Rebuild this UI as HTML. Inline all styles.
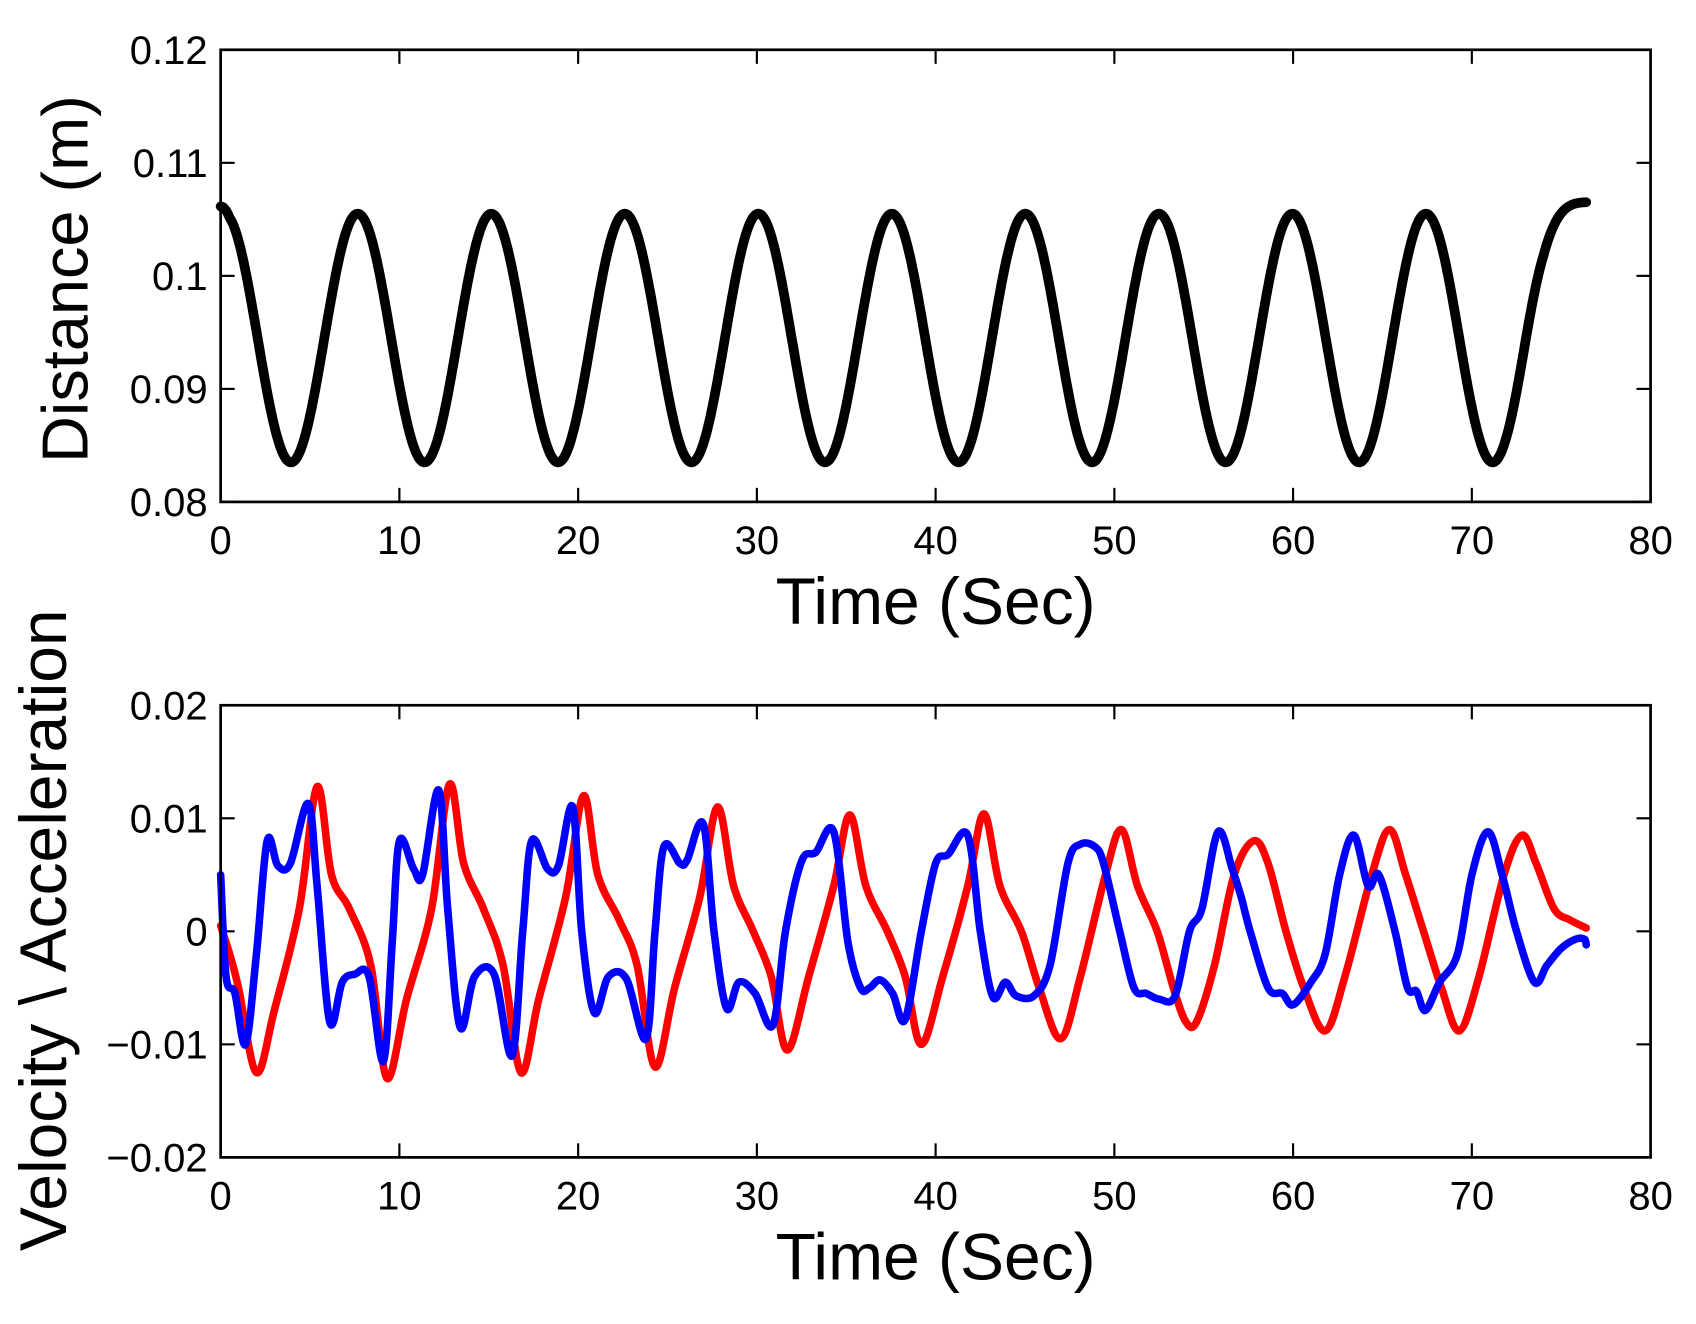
<!DOCTYPE html>
<html><head><meta charset="utf-8"><style>
html,body{margin:0;padding:0;background:#fff;}
svg{display:block;}
text{font-family:"Liberation Sans",Arial,sans-serif;fill:#000;}
</style></head><body>
<svg id="s" width="1696" height="1324" viewBox="0 0 1568 1224" xmlns="http://www.w3.org/2000/svg">
<rect width="1568" height="1224" fill="#fff"/>
<g id="g"></g>
<text x="60" y="258" font-size="60" text-anchor="middle" transform="rotate(-90 60 258)" dy="21">Distance (m)</text>
<text x="865" y="577" font-size="61" text-anchor="middle">Time (Sec)</text>
<text x="40" y="860" font-size="61" text-anchor="middle" transform="rotate(-90 40 860)" dy="21">Velocity \ Acceleration</text>
<text x="865" y="1183" font-size="61" text-anchor="middle">Time (Sec)</text>
</svg>
<script>
const NS="http://www.w3.org/2000/svg",g=document.getElementById('g');
function el(n,a,t){const e=document.createElementNS(NS,n);for(const k in a)e.setAttribute(k,a[k]);if(t!==undefined)e.textContent=t;g.appendChild(e);return e;}
const L=204,R=1526,W=R-L;
function axes(top,bot,labels){
  for(let i=0;i<=8;i++){const x=L+W*i/8;
    el('line',{x1:x,y1:bot,x2:x,y2:bot-13,stroke:'#000','stroke-width':2});
    el('line',{x1:x,y1:top,x2:x,y2:top+13,stroke:'#000','stroke-width':2});
    el('text',{x:x,y:bot+48,'font-size':37,'text-anchor':'middle'},String(i*10));}
  const n=labels.length-1;
  for(let j=0;j<=n;j++){const y=bot-(bot-top)*j/n;
    el('line',{x1:L,y1:y,x2:L+13,y2:y,stroke:'#000','stroke-width':2});
    el('line',{x1:R,y1:y,x2:R-13,y2:y,stroke:'#000','stroke-width':2});
    el('text',{x:L-12,y:y+13,'font-size':37,'text-anchor':'end'},labels[j]);}
}
function path(pts,color,w){
  let d='M'+pts[0][0]+','+pts[0][1];
  for(let i=0;i<pts.length-1;i++){const p0=pts[Math.max(0,i-1)],p1=pts[i],p2=pts[i+1],p3=pts[Math.min(pts.length-1,i+2)];
    const c1=[p1[0]+(p2[0]-p0[0])/6,p1[1]+(p2[1]-p0[1])/6],c2=[p2[0]-(p3[0]-p1[0])/6,p2[1]-(p3[1]-p1[1])/6];
    d+='C'+c1[0].toFixed(1)+','+c1[1].toFixed(1)+' '+c2[0].toFixed(1)+','+c2[1].toFixed(1)+' '+p2[0].toFixed(1)+','+p2[1].toFixed(1);}
  el('path',{d:d,fill:'none',stroke:color,'stroke-width':w,'stroke-linejoin':'round','stroke-linecap':'round'});
}
const sx=t=>L+t*W/80;
axes(46,464,['0.08','0.09','0.1','0.11','0.12']);
const sy1=v=>464-(v-0.08)/0.04*418;
let p=[];for(let t=0;t<=76.45;t+=0.1){let ph=2*Math.PI*(t-0.2)/7.47;if(t>73)ph=2*Math.PI*(73-0.2)/7.47+(2*Math.PI*(t-73)/7.47)*(1-(t-73)/9);let v=0.0945+0.011*Math.cos(ph);if(t>74)v+=0.0012*Math.min(1,(t-74)/2.4);if(t<0.5)v+=0.0008*(1-t/0.5);p.push([sx(t),sy1(v)]);}
path(p,'#000',9);
axes(652,1070,['\u22120.02','\u22120.01','0','0.01','0.02']);
const sy2=v=>861-v*10450;
const red=[[0,0.0005],[0.5,-0.002],[1.0,-0.005],[2.0,-0.0125],[3.0,-0.007],[4.4,0.002],[5.4,0.0128],[6.2,0.005],[7.2,0.002],[8.4,-0.003],[9.3,-0.013],[10.4,-0.006],[11.8,0.002],[12.8,0.013],[13.6,0.006],[14.7,0.002],[15.8,-0.003],[16.8,-0.0125],[17.8,-0.006],[19.3,0.003],[20.3,0.012],[21.1,0.005],[22.3,0.001],[23.3,-0.003],[24.3,-0.012],[25.4,-0.005],[26.8,0.003],[27.8,0.011],[28.7,0.004],[29.8,0.0],[30.8,-0.004],[31.7,-0.0105],[32.9,-0.004],[34.3,0.004],[35.2,0.0103],[36.1,0.004],[37.3,0.0],[38.3,-0.004],[39.2,-0.010],[40.4,-0.004],[41.8,0.004],[42.7,0.0104],[43.6,0.004],[44.8,0.0],[45.8,-0.005],[47.0,-0.0095],[48.1,-0.004],[49.5,0.005],[50.4,0.009],[51.3,0.004],[52.4,0.0],[53.3,-0.005],[54.0,-0.008],[54.6,-0.008],[55.6,-0.003],[56.7,0.005],[57.8,0.008],[58.6,0.006],[59.6,0.0],[60.6,-0.005],[61.8,-0.0088],[62.9,-0.004],[64.4,0.005],[65.4,0.009],[66.3,0.005],[67.3,0.0],[68.3,-0.005],[69.3,-0.0088],[70.4,-0.004],[71.8,0.005],[72.8,0.0085],[73.6,0.006],[74.6,0.002],[75.5,0.001],[76.4,0.0003]];
const blue=[[0,0.005],[0.3,-0.004],[0.8,-0.0055],[1.4,-0.010],[2.0,-0.002],[2.6,0.008],[3.2,0.0058],[3.9,0.006],[4.9,0.0113],[5.4,0.004],[6.1,-0.008],[6.8,-0.0045],[7.5,-0.0038],[8.3,-0.004],[9.1,-0.0115],[9.6,-0.001],[10.0,0.008],[10.8,0.0055],[11.3,0.005],[12.2,0.0125],[12.7,0.002],[13.4,-0.0085],[14.2,-0.004],[15.3,-0.0038],[16.3,-0.011],[16.9,0.0],[17.4,0.008],[18.3,0.0055],[18.9,0.0058],[19.7,0.011],[20.2,0.0],[20.9,-0.0072],[21.7,-0.004],[22.7,-0.0042],[23.8,-0.0095],[24.3,0.0],[24.8,0.0075],[25.7,0.006],[26.1,0.0063],[27.0,0.0095],[27.6,0.0],[28.3,-0.0068],[29.0,-0.0045],[29.9,-0.0055],[30.9,-0.0083],[31.6,0.0],[32.5,0.0062],[33.3,0.007],[34.3,0.0088],[35.1,-0.001],[35.8,-0.005],[36.3,-0.005],[36.9,-0.0043],[37.6,-0.0055],[38.3,-0.0078],[39.2,0.0],[40.0,0.006],[40.7,0.0068],[41.8,0.0085],[42.5,0.0],[43.2,-0.0058],[43.9,-0.0045],[44.5,-0.0057],[45.5,-0.0057],[46.4,-0.003],[47.4,0.006],[48.1,0.0077],[48.9,0.0075],[49.4,0.006],[50.3,0.0],[51.1,-0.005],[51.8,-0.0055],[52.5,-0.006],[53.4,-0.0057],[54.2,0.0],[54.9,0.002],[55.8,0.0088],[56.6,0.0055],[57.1,0.003],[57.6,0.0],[58.6,-0.005],[59.4,-0.0055],[60.0,-0.0065],[61.0,-0.0045],[61.8,-0.002],[62.6,0.005],[63.4,0.0085],[64.2,0.004],[64.8,0.005],[65.7,0.0],[66.4,-0.005],[66.9,-0.0053],[67.4,-0.007],[68.2,-0.0045],[69.2,-0.002],[70.0,0.005],[70.9,0.0088],[71.7,0.005],[72.5,0.0],[73.5,-0.0045],[74.2,-0.003],[75.0,-0.0015],[75.8,-0.0007],[76.3,-0.0007],[76.4,-0.0012]];
path(red.map(q=>[sx(q[0]),sy2(q[1])]),'#ff0000',7);
path(blue.map(q=>[sx(q[0]),sy2(q[1])]),'#0000ff',7);
el('rect',{x:L,y:46,width:W,height:418,fill:'none',stroke:'#000','stroke-width':2.5});
el('rect',{x:L,y:652,width:W,height:418,fill:'none',stroke:'#000','stroke-width':2.5});
</script>
</body></html>
